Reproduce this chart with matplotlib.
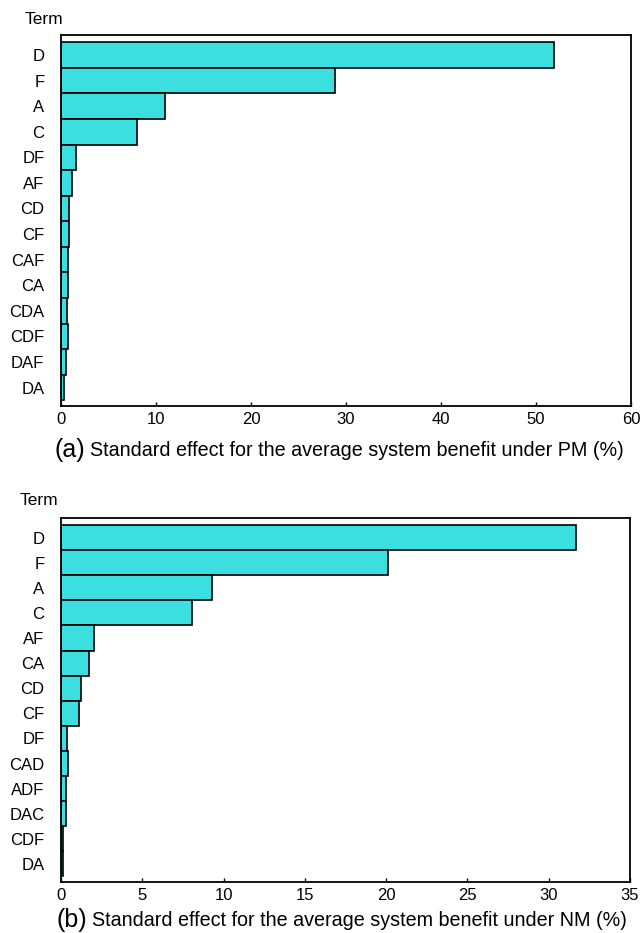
import matplotlib
matplotlib.use("Agg")
import matplotlib.pyplot as plt
from matplotlib.ticker import MultipleLocator

plt.rcParams['font.family'] = ['Liberation Sans', 'DejaVu Sans']

# Panel (a): standardized effects under PM
terms_a = ["D", "F", "A", "C", "DF", "AF", "CD", "CF", "CAF", "CA", "CDA", "CDF", "DAF", "DA"]
effects_a = [51.9, 28.8, 10.9, 8.05, 1.6, 1.2, 0.88, 0.88, 0.7, 0.7, 0.65, 0.7, 0.5, 0.35]

# Panel (b): standardized effects under NM
terms_b = ["D", "F", "A", "C", "AF", "CA", "CD", "CF", "DF", "CAD", "ADF", "DAC", "CDF", "DA"]
effects_b = [31.7, 20.1, 9.28, 8.05, 2.04, 1.73, 1.22, 1.11, 0.39, 0.41, 0.31, 0.31, 0.1, 0.1]

W, H = 643, 933
fig = plt.figure(figsize=(W / 100, H / 100), dpi=100)

BAR_COLOR = "#3cdfdf"


def px_axes(left, top, right, bottom):
    return fig.add_axes([left / W, 1 - bottom / H, (right - left) / W, (bottom - top) / H])


def draw_panel(ax, terms, effects, xmax, step, label_x, label_y, tag, caption, cap_y, tag_x, cap_x):
    y = list(range(len(terms)))
    ax.barh(y, effects, height=1.0, color=BAR_COLOR, edgecolor="black", linewidth=1.2)
    ax.set_yticks(y)
    ax.set_yticklabels(terms, fontsize=12)
    ax.set_ylim(len(terms) - 0.5 + 0.22, -0.5 - 0.28)
    ax.set_xlim(0, xmax)
    ax.xaxis.set_major_locator(MultipleLocator(step))
    ax.tick_params(axis="y", length=0, pad=12)
    ax.tick_params(axis="x", direction="in", length=3, width=1.0, labelsize=12, pad=4,
                   top=False)
    for s in ax.spines.values():
        s.set_linewidth(1.3)
    fig.text(label_x / W, 1 - label_y / H, "Term", fontsize=12.5, ha="left", va="center")
    fig.text(tag_x / W, 1 - cap_y / H, tag, fontsize=18, ha="left", va="center")
    fig.text(cap_x / W, 1 - cap_y / H, caption, fontsize=14.2, ha="left", va="center")


ax_a = px_axes(61, 35, 631, 406)
draw_panel(ax_a, terms_a, effects_a, 60, 10, 25, 19, "(a)",
           "Standard effect for the average system benefit under PM (%)", 450, 54, 90)

ax_b = px_axes(61, 518, 630, 882)
draw_panel(ax_b, terms_b, effects_b, 35, 5, 20, 501, "(b)",
           "Standard effect for the average system benefit under NM (%)", 920, 56, 92)

fig.savefig("out.png", dpi=100)
